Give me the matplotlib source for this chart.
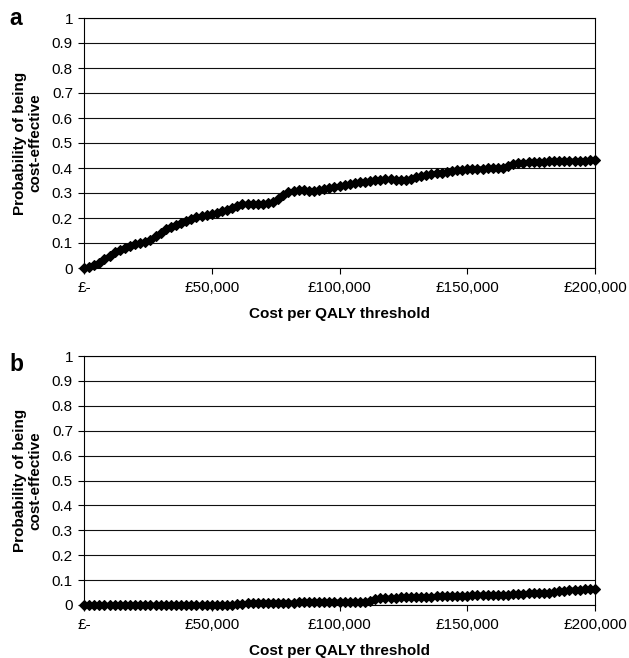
import matplotlib
matplotlib.use("Agg")
import matplotlib.pyplot as plt

plt.rcParams['font.family'] = ['Liberation Sans', 'DejaVu Sans']

# Cost per QALY threshold (GBP), every 2,000
thresholds = list(range(0, 200001, 2000))

prob_a = [0.000, 0.006, 0.014, 0.022, 0.035, 0.050, 0.063, 0.074, 0.082, 0.089,
          0.095, 0.101, 0.106, 0.114, 0.128, 0.140, 0.155, 0.164, 0.172, 0.180,
          0.190, 0.198, 0.203, 0.208, 0.212, 0.215, 0.220, 0.227, 0.234, 0.242,
          0.248, 0.255, 0.257, 0.257, 0.257, 0.258, 0.260, 0.266, 0.275, 0.294,
          0.303, 0.308, 0.311, 0.311, 0.310, 0.310, 0.311, 0.317, 0.322, 0.325,
          0.328, 0.331, 0.335, 0.339, 0.343, 0.346, 0.349, 0.352, 0.354, 0.355,
          0.355, 0.354, 0.354, 0.354, 0.357, 0.363, 0.368, 0.372, 0.376, 0.379,
          0.382, 0.385, 0.389, 0.391, 0.393, 0.395, 0.397, 0.397, 0.398, 0.399,
          0.399, 0.399, 0.402, 0.408, 0.418, 0.421, 0.422, 0.423, 0.423, 0.424,
          0.426, 0.427, 0.428, 0.428, 0.428, 0.428, 0.429, 0.429, 0.430, 0.431,
          0.433]

prob_b = [0.000, 0.000, 0.000, 0.000, 0.000, 0.000, 0.000, 0.000, 0.000, 0.000,
          0.000, 0.000, 0.000, 0.000, 0.000, 0.000, 0.000, 0.000, 0.000, 0.000,
          0.000, 0.000, 0.000, 0.000, 0.000, 0.000, 0.001, 0.001, 0.002, 0.002,
          0.003, 0.004, 0.007, 0.008, 0.008, 0.008, 0.008, 0.008, 0.008, 0.009,
          0.009, 0.009, 0.012, 0.013, 0.013, 0.013, 0.013, 0.013, 0.013, 0.013,
          0.013, 0.013, 0.013, 0.013, 0.013, 0.014, 0.018, 0.026, 0.027, 0.028,
          0.029, 0.030, 0.031, 0.032, 0.033, 0.033, 0.034, 0.034, 0.034, 0.035,
          0.035, 0.035, 0.036, 0.036, 0.036, 0.037, 0.040, 0.040, 0.041, 0.041,
          0.041, 0.042, 0.042, 0.042, 0.043, 0.046, 0.046, 0.047, 0.047, 0.047,
          0.048, 0.048, 0.052, 0.055, 0.057, 0.060, 0.061, 0.062, 0.063, 0.064,
          0.065]

y_ticks = [0, 0.1, 0.2, 0.3, 0.4, 0.5, 0.6, 0.7, 0.8, 0.9, 1]
y_tick_labels = ['0', '0.1', '0.2', '0.3', '0.4', '0.5', '0.6', '0.7', '0.8', '0.9', '1']
x_ticks = [0, 50000, 100000, 150000, 200000]
x_tick_labels = ['£-', '£50,000', '£100,000', '£150,000', '£200,000']
panel_letters = ['a', 'b']
x_label = 'Cost per QALY threshold'
y_label = 'Probability of being\ncost-effective'

W, H = 629, 658
fig = plt.figure(figsize=(W / 100, H / 100), dpi=100)

left_px, right_px = 84, 595
panels_px = [(18, 268), (356, 605)]
letter_baseline_px = [25, 371]

for i, (series, (top, bot)) in enumerate(zip([prob_a, prob_b], panels_px)):
    ax = fig.add_axes([left_px / W, 1 - bot / H, (right_px - left_px) / W, (bot - top) / H])
    ax.set_xlim(0, 200000)
    ax.set_ylim(0, 1)
    ax.set_yticks(y_ticks)
    ax.set_yticklabels(y_tick_labels)
    ax.set_xticks(x_ticks)
    ax.set_xticklabels(x_tick_labels)
    ax.tick_params(axis='y', direction='out', length=4, width=0.8,
                   labelsize=11, pad=4, color='black')
    ax.tick_params(axis='x', direction='out', length=4, width=0.8,
                   labelsize=11, pad=5.5, color='black')
    ax.yaxis.grid(True, color='#111111', linewidth=0.8)
    ax.set_axisbelow(True)
    for sp in ax.spines.values():
        sp.set_color('black')
        sp.set_linewidth(0.8)
    ax.plot(thresholds, series, color='black', linewidth=3.2, marker='D',
            markersize=5.5, markeredgewidth=0.8, clip_on=False, zorder=3)
    ax.set_xlabel(x_label, fontsize=11, fontweight='bold', labelpad=8.5)
    fig.text(28 / W, 1 - ((top + bot) / 2) / H, y_label, rotation=90,
             ha='center', va='center', multialignment='center',
             fontsize=11, fontweight='bold', linespacing=1.15)
    fig.text(16 / W, 1 - letter_baseline_px[i] / H, panel_letters[i],
             ha='center', va='baseline', fontsize=16.5, fontweight='bold')

fig.savefig('out.png', dpi=100, facecolor='white')
